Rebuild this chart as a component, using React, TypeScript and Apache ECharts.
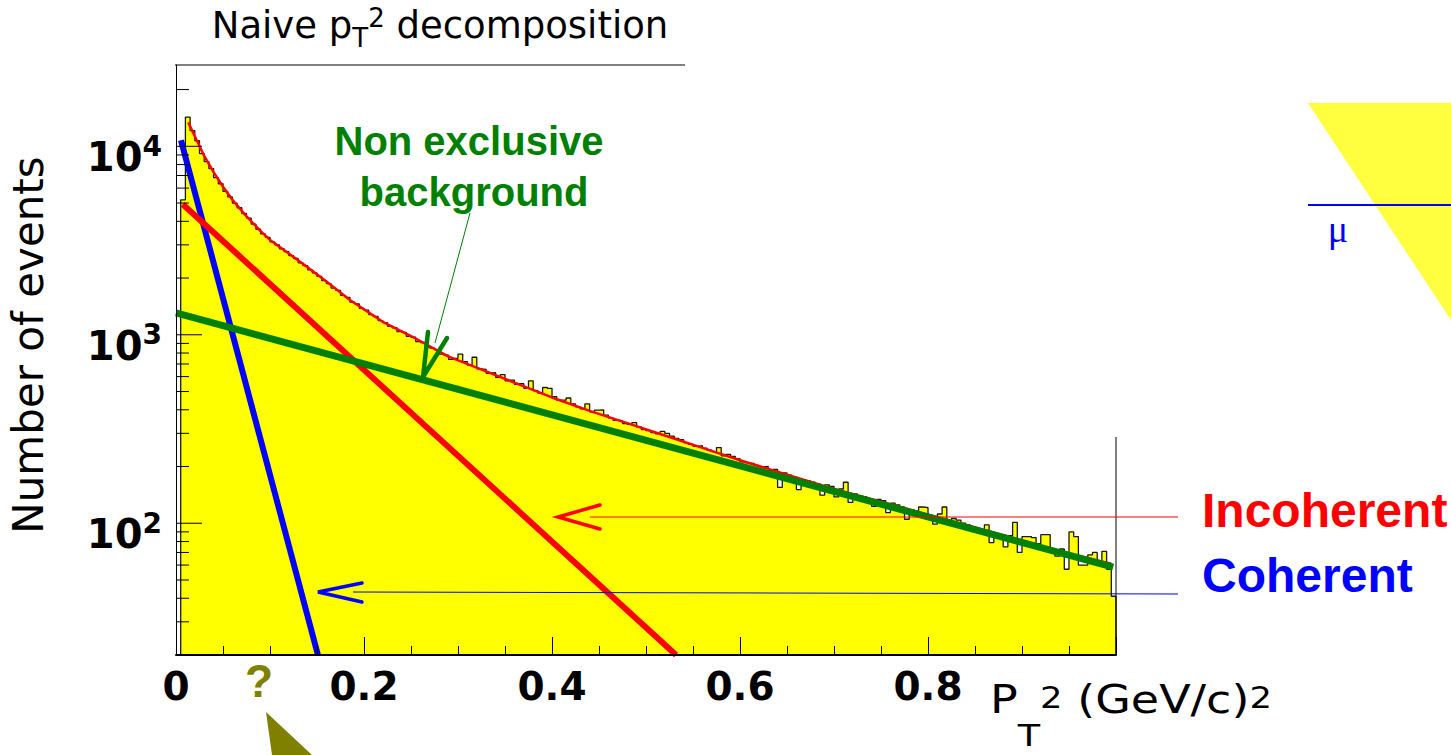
import React, { useEffect, useRef } from 'react';
import * as echarts from 'echarts';

// ---------- data ----------
const binLow = 0.005;
const binWidth = 0.005;
const counts = [
  5200, 14300, 12100, 10700, 9150, 8300, 7620, 6820, 6330, 5760,
  5390, 4990, 4720, 4400, 4160, 3860, 3630, 3430, 3290, 3110,
  3000, 2860, 2760, 2630, 2540, 2410, 2330, 2210, 2130, 2040,
  1940, 1870, 1770, 1720, 1620, 1580, 1490, 1460, 1380, 1350,
  1280, 1250, 1190, 1160, 1110, 1090, 1040, 1030, 980, 970,
  920, 910, 860, 850, 835, 790, 780, 740, 750, 790,
  720, 690, 760, 660, 655, 625, 630, 595, 615, 570,
  575, 545, 550, 520, 570, 505, 490, 525, 520, 470,
  450, 450, 462, 430, 415, 405, 430, 390, 398, 400,
  375, 362, 352, 350, 338, 335, 342, 325, 314, 310,
  303, 298, 307, 300, 290, 282, 278, 268, 262, 256,
  258, 250, 244, 240, 252, 228, 232, 226, 220, 212,
  210, 208, 203, 199, 200, 190, 193, 155, 185, 180,
  176, 151, 170, 168, 165, 162, 141, 160, 157, 138,
  152, 165, 129, 143, 140, 138, 133, 123, 134, 132,
  114, 128, 125, 122, 105, 118, 116, 122, 121, 110,
  99, 112, 122, 99, 106, 104, 100, 98, 96, 94,
  92, 98, 79, 86, 84, 75, 86, 101, 70, 85,
  85, 84, 78, 87, 87, 72, 67, 73, 57, 90,
  85, 60, 60, 68, 70, 62, 71, 57, 41,
];

const fitX = [0.013, 0.02, 0.03, 0.04, 0.05, 0.06, 0.075, 0.09, 0.1, 0.12, 0.14, 0.16, 0.185, 0.22, 0.25, 0.29, 0.33, 0.36, 0.4, 0.44, 0.48, 0.52, 0.56, 0.6, 0.65, 0.7, 0.75, 0.8, 0.85, 0.9, 0.95, 0.995];
const fitY = [13400, 11300, 8900, 7300, 6100, 5200, 4250, 3550, 3185, 2700, 2280, 1920, 1530, 1172, 985, 765, 640, 557, 465, 395, 340, 292, 251, 216, 181, 152, 130, 111, 95, 81, 69, 61];

const coherentX = [0.0053, 0.151];
const coherentY = [10760, 20];
const incoherentX = [0.0071, 0.532];
const incoherentY = [4930, 20];
const backgroundX = [0.0, 0.997];
const backgroundY = [1307, 58.5];

const xTickLabels = ['0', '0.2', '0.4', '0.6', '0.8'];
const yMajorTicks = [100, 1000, 10000];
const yMinorTicks = [30, 40, 50, 60, 70, 80, 90, 200, 300, 400, 500, 600, 700, 800, 900, 2000, 3000, 4000, 5000, 6000, 7000, 8000, 9000, 20000];

const Y_MIN = 20;
const Y_MAX = 27000;

const ROOT_FONT = '"DejaVu Sans", sans-serif';
const SLIDE_FONT = '"Liberation Sans", Arial, sans-serif';

function buildOption() {
  const histData: number[][] = [[binLow, Y_MIN]];
  counts.forEach((c, k) => histData.push([+(binLow + k * binWidth).toFixed(4), c]));
  const xEnd = +(binLow + counts.length * binWidth).toFixed(4);
  histData.push([xEnd, counts[counts.length - 1]]);
  histData.push([xEnd, Y_MIN]);

  const zip = (xs: number[], ys: number[]) => xs.map((x, i) => [x, ys[i]]);

  const tickSeries = (vals: number[], len: number) => ({
    type: 'custom',
    coordinateSystem: 'cartesian2d',
    silent: true,
    z: 8,
    clip: false,
    data: vals.map((v) => [0, v]),
    renderItem: (_p: any, api: any) => {
      const p = api.coord([0, api.value(1)]);
      return {
        type: 'line',
        shape: { x1: p[0], y1: p[1], x2: p[0] + len, y2: p[1] },
        style: { stroke: '#000', lineWidth: 1 },
      };
    },
  });

  const graphic: any[] = [
    // frame pieces
    { type: 'line', shape: { x1: 175, y1: 65, x2: 685, y2: 65 }, style: { stroke: '#000', lineWidth: 1 }, z: 100 },
    { type: 'line', shape: { x1: 1116, y1: 437, x2: 1116, y2: 655 }, style: { stroke: '#000', lineWidth: 1 }, z: 100 },
    // title
    {
      type: 'text', x: 440, y: 25, z: 100,
      style: {
        text: '{n|Naive p}{sub|T}{sup|2}{n| decomposition}',
        align: 'center', verticalAlign: 'middle',
        rich: {
          n: { fontSize: 37, fontFamily: ROOT_FONT, fill: '#000' },
          sub: { fontSize: 26, fontFamily: ROOT_FONT, fill: '#000', padding: [26, 0, 0, 0] },
          sup: { fontSize: 26, fontFamily: ROOT_FONT, fill: '#000', padding: [0, 0, 14, 0] },
        },
      },
    },
    // y title
    {
      type: 'text', x: 28, y: 345, rotation: Math.PI / 2, z: 100,
      style: { text: 'Number of events', fontSize: 42, fontFamily: ROOT_FONT, fill: '#000', align: 'center', verticalAlign: 'middle' },
    },
    // x title
    {
      type: 'text', x: 990, y: 699, z: 100, scaleX: 1.18, originX: 0, originY: 0,
      style: {
        text: '{n|P}{sub|T}{sup|2}{n| (GeV/c)}{sup|2}',
        align: 'left', verticalAlign: 'middle',
        rich: {
          n: { fontSize: 39, fontFamily: ROOT_FONT, fill: '#000' },
          sub: { fontSize: 31, fontFamily: ROOT_FONT, fill: '#000', padding: [72, 0, 0, 0] },
          sup: { fontSize: 30, fontFamily: ROOT_FONT, fill: '#000', padding: [0, 0, 2, 0] },
        },
      },
    },
    // Non exclusive background annotation
    { type: 'text', x: 469, y: 141, z: 100, style: { text: 'Non exclusive', fontSize: 40, fontWeight: 'bold', fontFamily: SLIDE_FONT, fill: '#008000', align: 'center', verticalAlign: 'middle' } },
    { type: 'text', x: 474, y: 192, z: 100, style: { text: 'background', fontSize: 40, fontWeight: 'bold', fontFamily: SLIDE_FONT, fill: '#008000', align: 'center', verticalAlign: 'middle' } },
    { type: 'line', shape: { x1: 470, y1: 213, x2: 435, y2: 343 }, style: { stroke: '#008000', lineWidth: 1 }, z: 100 },
    { type: 'polyline', shape: { points: [[428, 332], [423, 377], [447, 338]] }, style: { stroke: '#008000', lineWidth: 4.5, fill: 'none', lineCap: 'round', lineJoin: 'miter' }, z: 100 },
    // Incoherent arrow
    { type: 'polyline', shape: { points: [[600, 505], [558, 517], [600, 529]] }, style: { stroke: '#ff0000', lineWidth: 3.5, fill: 'none', lineCap: 'round' }, z: 100 },
    { type: 'line', shape: { x1: 590, y1: 517, x2: 1178, y2: 517 }, style: { stroke: '#ff0000', lineWidth: 1 }, z: 100 },
    // Coherent arrow
    { type: 'polyline', shape: { points: [[362, 583], [318, 592], [362, 602]] }, style: { stroke: '#0000ff', lineWidth: 3.5, fill: 'none', lineCap: 'round' }, z: 100 },
    { type: 'line', shape: { x1: 353, y1: 592, x2: 1178, y2: 594 }, style: { stroke: '#0000ff', lineWidth: 1 }, z: 100 },
    // legend-like labels
    { type: 'text', x: 1202, y: 510, z: 100, style: { text: 'Incoherent', fontSize: 48, fontWeight: 'bold', fontFamily: SLIDE_FONT, fill: '#ff0000', align: 'left', verticalAlign: 'middle' } },
    { type: 'text', x: 1202, y: 575, z: 100, style: { text: 'Coherent', fontSize: 48, fontWeight: 'bold', fontFamily: SLIDE_FONT, fill: '#0000ff', align: 'left', verticalAlign: 'middle' } },
    // question mark and olive pointer
    { type: 'text', x: 259, y: 681, z: 100, style: { text: '?', fontSize: 46, fontWeight: 'bold', fontFamily: SLIDE_FONT, fill: '#808000', align: 'center', verticalAlign: 'middle' } },
    { type: 'polygon', shape: { points: [[266, 712], [312, 755], [272, 755]] }, style: { fill: '#808000' }, z: 100 },
    // right decoration
    { type: 'polygon', shape: { points: [[1308, 103], [1451, 103], [1451, 320]] }, style: { fill: '#ffff40' }, z: 90 },
    { type: 'line', shape: { x1: 1308, y1: 205, x2: 1451, y2: 205 }, style: { stroke: '#0000ff', lineWidth: 2 }, z: 100 },
    { type: 'text', x: 1338, y: 229, z: 100, style: { text: 'μ', fontSize: 38, fontFamily: '"Liberation Serif", serif', fill: '#0000ff', align: 'center', verticalAlign: 'middle' } },
  ];

  return {
    animation: false,
    backgroundColor: '#fff',
    grid: { left: 176, top: 65, width: 940, height: 590, containLabel: false },
    xAxis: {
      type: 'value',
      min: 0,
      max: 1,
      interval: 0.2,
      z: 10,
      axisLine: { show: true, lineStyle: { color: '#000', width: 2 } },
      axisTick: { show: true, inside: true, length: 18, lineStyle: { color: '#000', width: 1 } },
      minorTick: { show: true, splitNumber: 4, length: 9, lineStyle: { color: '#000', width: 1 } },
      splitLine: { show: false },
      axisLabel: {
        margin: 12,
        fontSize: 39,
        fontWeight: 'bold',
        fontFamily: ROOT_FONT,
        color: '#000',
        formatter: (v: number) => xTickLabels[Math.round(v / 0.2)] ?? '',
      },
    },
    yAxis: {
      type: 'log',
      logBase: 10,
      min: Y_MIN,
      max: Y_MAX,
      z: 10,
      axisLine: { show: true, lineStyle: { color: '#000', width: 1 } },
      axisTick: { show: false },
      splitLine: { show: false },
      axisLabel: {
        margin: 14,
        formatter: (v: number) => {
          const l = Math.log10(v);
          const r = Math.round(l);
          if (Math.abs(l - r) > 1e-6) return '';
          return `{b|10}{s|${r}}`;
        },
        rich: {
          b: { fontSize: 40, fontWeight: 'bold', fontFamily: ROOT_FONT, color: '#000', padding: [22, 0, 0, 0] },
          s: { fontSize: 28, fontWeight: 'bold', fontFamily: ROOT_FONT, color: '#000' },
        },
      },
    },
    series: [
      {
        name: 'data',
        type: 'line',
        step: 'end',
        data: histData,
        showSymbol: false,
        symbol: 'none',
        silent: true,
        clip: true,
        z: 2,
        lineStyle: { color: '#1a1a00', width: 1.3 },
        areaStyle: { color: '#ffff00', opacity: 1, origin: 'start' },
      },
      {
        name: 'fit',
        type: 'line',
        data: zip(fitX, fitY),
        symbol: 'none',
        silent: true,
        clip: true,
        z: 3,
        lineStyle: { color: '#ff0000', width: 2.5 },
      },
      {
        name: 'Coherent',
        type: 'line',
        data: zip(coherentX, coherentY),
        symbol: 'none',
        silent: true,
        clip: true,
        z: 4,
        lineStyle: { color: '#0000ff', width: 6 },
      },
      {
        name: 'Incoherent',
        type: 'line',
        data: zip(incoherentX, incoherentY),
        symbol: 'none',
        silent: true,
        clip: true,
        z: 4,
        lineStyle: { color: '#ff0000', width: 6 },
      },
      {
        name: 'Non exclusive background',
        type: 'line',
        data: zip(backgroundX, backgroundY),
        symbol: 'none',
        silent: true,
        clip: true,
        z: 5,
        lineStyle: { color: '#008000', width: 7 },
      },
      tickSeries(yMajorTicks, 26),
      tickSeries(yMinorTicks, 13),
    ],
    graphic,
  };
}

export default function App() {
  const ref = useRef<HTMLDivElement>(null);
  useEffect(() => {
    if (!ref.current) return;
    const chart = echarts.init(ref.current, null, { renderer: 'svg' });
    chart.setOption(buildOption() as any);
    return () => chart.dispose();
  }, []);
  return (
    <div
      ref={ref}
      style={{ position: 'fixed', left: 0, top: 0, width: 1451, height: 755, background: '#fff' }}
    />
  );
}
